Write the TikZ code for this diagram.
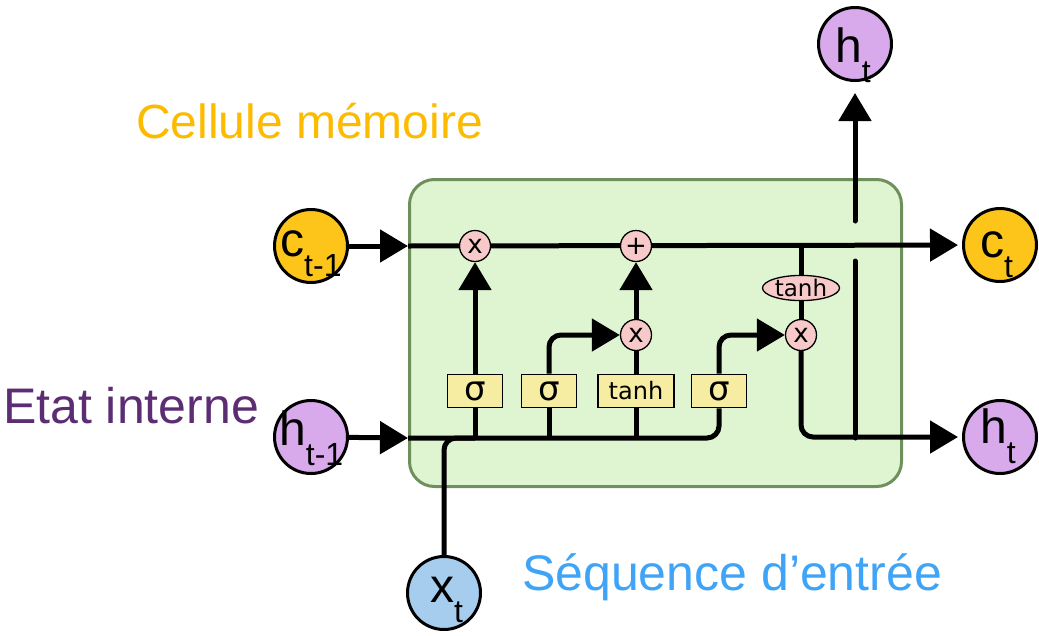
\documentclass[tikz,border=0pt]{standalone}
\usepackage{fontspec}
\setmainfont{Liberation Sans}
\newfontfamily\gatefont{DejaVu Sans}
\usetikzlibrary{arrows.meta,shapes.geometric,calc}

\definecolor{cellorange}{HTML}{FDC51A}
\definecolor{celltext}{HTML}{FDBB00}
\definecolor{hidpurple}{HTML}{D8A9EB}
\definecolor{hidtext}{HTML}{5C2D73}
\definecolor{inblue}{HTML}{A6CDEE}
\definecolor{intext}{HTML}{3FA4F7}
\definecolor{boxgreen}{HTML}{DFF5D1}
\definecolor{boxedge}{HTML}{6F8F5B}
\definecolor{gateyellow}{HTML}{F6ECA2}
\definecolor{oppink}{HTML}{F8C9C9}

% lowered index for the state symbols
\newcommand\subs[1]{\raisebox{-20pt}{\fontsize{32}{32}\selectfont #1}}

\pgfdeclarelayer{bg}
\pgfdeclarelayer{wires}
\pgfsetlayers{bg,wires,main}

\begin{document}
\begin{tikzpicture}[x=1pt,y=-1pt,
  state/.style={circle,draw=black,line width=3pt,minimum size=73pt,inner sep=0pt},
  symb/.style={anchor=base west,inner sep=0pt,font=\fontsize{48}{48}\selectfont},
  gatebox/.style={draw=black,line width=1.8pt,fill=gateyellow,minimum height=33pt,
    minimum width=55pt,inner sep=0pt},
  sigfont/.style={font=\gatefont\fontsize{34}{34}\selectfont},
  tanhfont/.style={font=\gatefont\fontsize{24}{24}\selectfont},
  pw/.style={circle,draw=black,line width=1.3pt,fill=oppink,minimum size=31pt,
    inner sep=0pt,font=\gatefont\fontsize{26}{26}\selectfont},
  flow/.style={line width=5pt},
  tip/.style={-{Triangle[length=28pt,width=32pt]}},
  caption/.style={anchor=base west,inner sep=0pt}
]
\useasboundingbox (0,0) rectangle (1039,635);

% LSTM cell body
\begin{pgfonlayer}{bg}
\node[draw=boxedge,line width=3pt,fill=boxgreen,rounded corners=25pt,
  minimum width=492pt,minimum height=307pt,anchor=north west,inner sep=0pt]
  (cell) at (408,178) {};
\end{pgfonlayer}

% states
\node[state,fill=cellorange] (cprev) at (311,246) {};
\node[state,fill=hidpurple]  (hprev) at (311,437) {};
\node[state,fill=inblue]     (xt)    at (444,593) {};
\node[state,fill=cellorange] (cnext) at (1000,245) {};
\node[state,fill=hidpurple]  (hnext) at (1000,437) {};
\node[state,fill=hidpurple]  (hup)   at (855,44) {};

\node[symb] (cprevlbl) at (280,256) {c\subs{t-1}};
\node[symb] (hprevlbl) at (279,445) {h\subs{t-1}};
\node[symb] (xtlbl)    at (430,602) {x\subs{t}};
\node[symb] (cnextlbl) at (980,257) {c\subs{t}};
\node[symb] (hnextlbl) at (980,443) {h\subs{t}};
\node[symb] (huplbl)   at (835,62)  {h\subs{t}};

% gates
\node[gatebox,sigfont]  (fg) at (475,391) {σ};
\node[gatebox,sigfont]  (ig) at (549,391) {σ};
\node[gatebox,tanhfont,minimum width=76pt] (cg) at (636,391) {tanh};
\node[gatebox,sigfont]  (og) at (719,391) {σ};

% pointwise operations
\node[pw] (fmul) at (475,246) {x};
\node[pw] (add)  at (636,246) {+};
\node[pw] (imul) at (636,335) {x};
\node[pw] (omul) at (801,335) {x};
\node[ellipse,draw=black,line width=1.3pt,fill=oppink,minimum width=77pt,
  minimum height=23pt,inner sep=0pt,font=\gatefont\fontsize{23}{23}\selectfont]
  (tanhop) at (801,288) {tanh};

% junction points
\coordinate (cin)  at (408,246);
\coordinate (hin)  at (408,438);
\coordinate (hj)   at (855,438);
\coordinate (hlow) at (855,261);
\coordinate (hhigh) at (855,221);

\begin{pgfonlayer}{wires}
% cell state
\draw[flow,tip] (cprev) -- (cin);
\draw[flow,tip,shorten >=4pt] (cin) -- (cnext);
% hidden state and input
\draw[flow,tip] (hprev) -- (hin);
\draw[flow,rounded corners=12pt] (hin) -- (og.south |- hin) -- (og.south);
\draw[flow,rounded corners=12pt] (xt) |- (fg.south |- hin);
\draw[flow] (fg.south |- hin) -- (fg.south);
\draw[flow] (ig.south |- hin) -- (ig.south);
\draw[flow] (cg.south |- hin) -- (cg.south);
% forget gate
\draw[flow,tip] (fg) -- (fmul);
% input gate and candidate
\draw[flow,tip,rounded corners=12pt] (ig) |- (imul);
\draw[flow] (cg) -- (imul);
\draw[flow,tip] (imul) -- (add);
% output gate
\draw[flow,tip,rounded corners=12pt] (og) |- (omul);
\draw[flow] (cin -| tanhop) -- (tanhop);
\draw[flow] (tanhop) -- (omul);
\draw[flow,tip,rounded corners=12pt,shorten >=4pt] (omul) |- (hnext);
% hidden state going up
\draw[flow,line cap=round] (hj) -- (hlow);
\draw[flow,tip,line cap=round,shorten >=11pt] (hhigh) -- (hup);
\end{pgfonlayer}

% captions
\node[caption,text=celltext,font=\fontsize{48}{48}\selectfont] (lblc) at (136,138) {Cellule mémoire};
\node[caption,text=hidtext,font=\fontsize{50}{50}\selectfont]  (lblh) at (3,423)   {Etat interne};
\node[caption,text=intext,font=\fontsize{50}{50}\selectfont]   (lblx) at (522,590) {Séquence d’entrée};
\end{tikzpicture}
\end{document}
